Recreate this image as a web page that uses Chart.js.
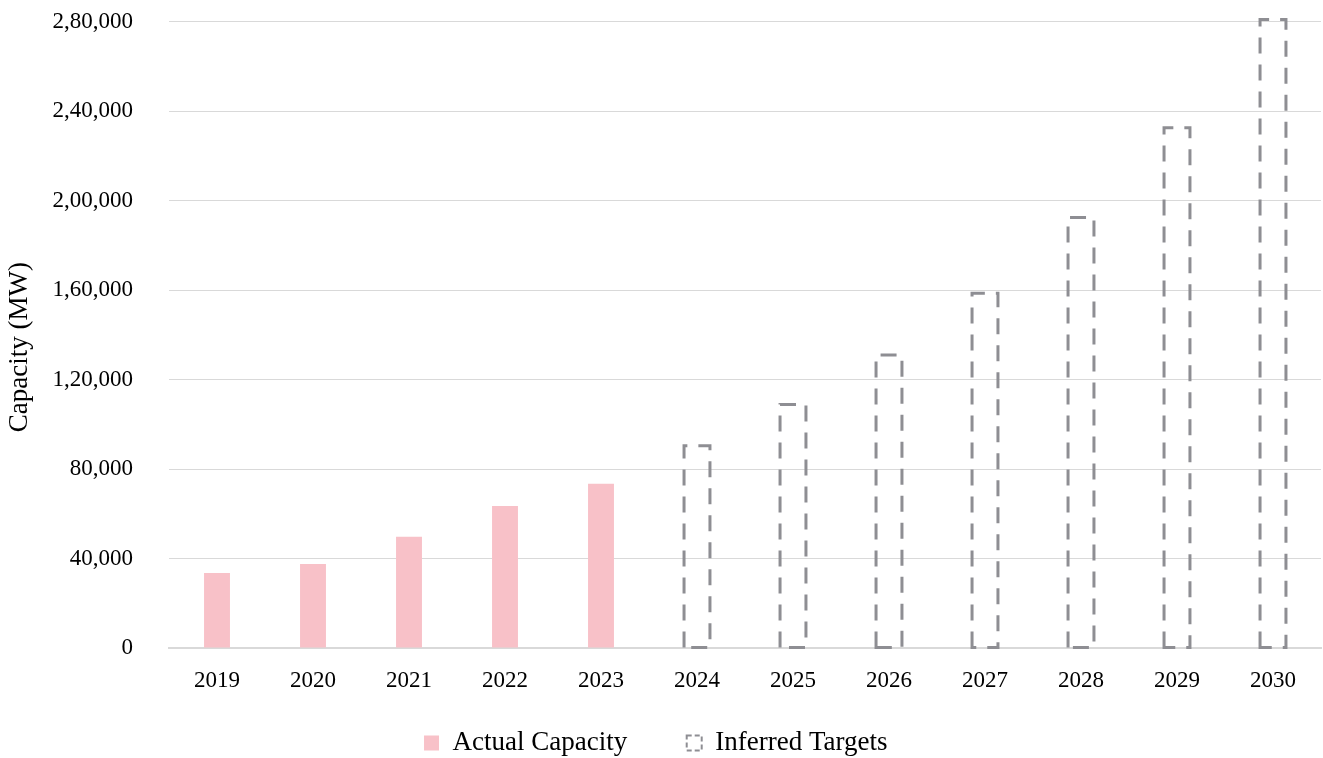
<!DOCTYPE html>
<html>
<head>
<meta charset="utf-8">
<style>
  html, body { margin: 0; padding: 0; background: #fff; }
  #wrap { width: 1323px; height: 758px; }
</style>
<script src="https://cdn.jsdelivr.net/npm/chart.js@4"></script>
</head>
<body>
<div id="wrap"><canvas id="capacity-chart"></canvas></div>
<script>
const years = ["2019", "2020", "2021", "2022", "2023", "2024", "2025", "2026", "2027", "2028", "2029", "2030"];
const actualCapacity = [33500, 37600, 49700, 63500, 73400, null, null, null, null, null, null, null];
const inferredTargets = [null, null, null, null, null, 90400, 108900, 131000, 158600, 192500, 232600, 281000];
const yTicks = [0, 40000, 80000, 120000, 160000, 200000, 240000, 280000];

const pink = "#f8c1c8";
const dashGray = "#8e8e93";
const gridGray = "#d9d9d9";
const serif = "'Liberation Serif', 'DejaVu Serif', serif";

// indian digit grouping: 2,80,000
const formatIndian = (value) => {
  const s = String(Math.round(value));
  if (s.length <= 3) return s;
  const last3 = s.slice(-3);
  let rest = s.slice(0, -3);
  const parts = [];
  while (rest.length > 2) {
    parts.unshift(rest.slice(-2));
    rest = rest.slice(0, -2);
  }
  if (rest) parts.unshift(rest);
  return parts.join(",") + "," + last3;
};

// bar elements can't dash their border, so stroke the target bars ourselves
const dashedOutline = {
  id: "dashedOutline",
  afterDatasetsDraw(chart) {
    const meta = chart.getDatasetMeta(1);
    const c = chart.ctx;
    c.save();
    c.strokeStyle = dashGray;
    c.lineWidth = 3;
    c.setLineDash([16, 11]);
    meta.data.forEach((bar, i) => {
      if (inferredTargets[i] == null) return;
      const { x, y, base, width } = bar.getProps(["x", "y", "base", "width"], true);
      const left = x - width / 2;
      const right = x + width / 2;
      c.beginPath();
      c.moveTo(left, base);
      c.lineTo(left, y);
      c.lineTo(right, y);
      c.lineTo(right, base);
      c.closePath();
      c.stroke();
    });
    c.restore();
  },
};

Chart.defaults.font.family = serif;
Chart.defaults.font.size = 23;
Chart.defaults.color = "#000";

new Chart(document.getElementById("capacity-chart"), {
  type: "bar",
  data: {
    labels: years,
    datasets: [
      {
        label: "Actual Capacity",
        data: actualCapacity,
        backgroundColor: pink,
        borderWidth: 0,
      },
      {
        label: "Inferred Targets",
        data: inferredTargets,
        backgroundColor: "rgba(0,0,0,0)",
        borderWidth: 0,
      },
    ],
  },
  options: {
    responsive: true,
    maintainAspectRatio: false,
    animation: false,
    grouped: false,
    categoryPercentage: 1,
    barPercentage: 0.27,
    layout: {
      padding: { top: 0, right: 2, left: 4, bottom: -8.5 },
    },
    plugins: {
      tooltip: { enabled: false },
      legend: {
        position: "bottom",
        labels: {
          font: { size: 27 },
          boxWidth: 15,
          boxHeight: 15,
          padding: 32.5,
          generateLabels: () => [
            {
              text: "Actual Capacity\u2003",
              fillStyle: pink,
              strokeStyle: pink,
              lineWidth: 0,
              datasetIndex: 0,
            },
            {
              text: "Inferred Targets\u2002",
              fillStyle: "rgba(0,0,0,0)",
              strokeStyle: dashGray,
              lineWidth: 2,
              lineDash: [5, 3],
              datasetIndex: 1,
            },
          ],
        },
      },
    },
    scales: {
      x: {
        grid: { display: false, drawTicks: false },
        border: { color: gridGray, width: 2 },
        ticks: { padding: 19, maxRotation: 0 },
        afterFit: (axis) => {
          axis.height = 49;
        },
      },
      y: {
        min: 0,
        max: 280000,
        afterBuildTicks: (axis) => {
          axis.ticks = yTicks.map((value) => ({ value }));
        },
        afterFit: (axis) => {
          axis.width = 165;
        },
        grid: { color: gridGray, lineWidth: 1, drawTicks: true, tickLength: 28, tickColor: "rgba(0,0,0,0)" },
        border: { display: false },
        ticks: {
          padding: 8,
          callback: (value) => formatIndian(value),
        },
        title: {
          display: true,
          text: "Capacity (MW)\u2002\u2009\u2009",
          font: { size: 27 },
          padding: { top: 0, bottom: 0 },
        },
      },
    },
  },
  plugins: [dashedOutline],
});
</script>
</body>
</html>
